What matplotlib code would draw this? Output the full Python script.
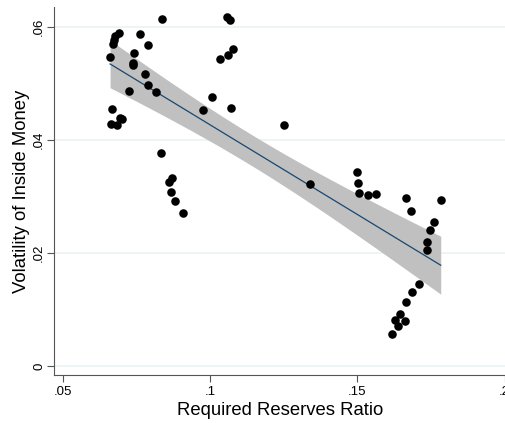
import numpy as np
import matplotlib
matplotlib.use('Agg')
import matplotlib.pyplot as plt

plt.rcParams['font.family'] = ['Liberation Sans', 'DejaVu Sans']

# required reserves ratio vs volatility of inside money
reserves = [0.0838, 0.1058, 0.1067, 0.0690, 0.0676, 0.0672, 0.0670, 0.0761,
            0.0789, 0.0660, 0.0740, 0.0737, 0.0739, 0.1078, 0.1061, 0.1035,
            0.0779, 0.0790, 0.0723, 0.0817, 0.1006, 0.0974, 0.1069, 0.0667,
            0.0664, 0.0682, 0.0693, 0.0702, 0.0834, 0.0870, 0.0860, 0.0868,
            0.0882, 0.0909, 0.1250, 0.1338, 0.1499, 0.1503, 0.1506, 0.1536,
            0.1564, 0.1664, 0.1682, 0.1783, 0.1761, 0.1745, 0.1737, 0.1737,
            0.1710, 0.1687, 0.1665, 0.1645, 0.1629, 0.1637, 0.1663, 0.1616]
volatility = [0.06146, 0.06174, 0.06116, 0.05898, 0.05838, 0.05762, 0.05691, 0.05868,
              0.05673, 0.05467, 0.05544, 0.05367, 0.05320, 0.05603, 0.05497, 0.05426,
              0.05173, 0.04966, 0.04860, 0.04851, 0.04759, 0.04529, 0.04568, 0.04547,
              0.04276, 0.04258, 0.04394, 0.04364, 0.03775, 0.03321, 0.03250, 0.03078,
              0.02926, 0.02714, 0.04264, 0.03220, 0.03427, 0.03241, 0.03059, 0.03029,
              0.03050, 0.02979, 0.02751, 0.02931, 0.02556, 0.02410, 0.02188, 0.02056,
              0.01451, 0.01307, 0.01130, 0.00923, 0.00808, 0.00711, 0.00805, 0.00570]

x_ticks = [0.05, 0.1, 0.15, 0.2]
x_labels = ['.05', '.1', '.15', '.2']
y_ticks = [0, 0.02, 0.04, 0.06]
y_labels = ['0', '.02', '.04', '.06']

x = np.array(reserves)
y = np.array(volatility)
n = len(x)

# linear fit with 95% CI of the mean prediction (like lfitci)
b, a = np.polyfit(x, y, 1)
resid = y - (a + b * x)
s = np.sqrt(np.sum(resid ** 2) / (n - 2))
xx = np.linspace(x.min(), x.max(), 100)
yy = a + b * xx
se = s * np.sqrt(1 / n + (xx - x.mean()) ** 2 / np.sum((x - x.mean()) ** 2))
t = 2.005

fig = plt.figure(figsize=(5.06, 4.23), dpi=100)
ax = fig.add_axes([0.107, 0.113, 0.892, 0.870])

ax.fill_between(xx, yy - t * se, yy + t * se, color='#c0c0c0', lw=0, zorder=2)
ax.plot(xx, yy, color='#1a476f', lw=0.9, zorder=3)
ax.scatter(x, y, s=38, color='black', lw=0, zorder=4)

ax.set_xlim(0.047, 0.2003)
ax.set_ylim(-0.0016, 0.0635)
ax.set_xticks(x_ticks)
ax.set_xticklabels(x_labels)
ax.set_yticks(y_ticks)
ax.set_yticklabels(y_labels, rotation=90, va='center')
ax.grid(axis='y', color='#eaf2f3', lw=1.2, zorder=0)
ax.set_axisbelow(True)

for side in ['top', 'right']:
    ax.spines[side].set_visible(False)
ax.spines['left'].set_color('#555555')
ax.spines['bottom'].set_color('#555555')
ax.tick_params(axis='both', length=5, width=0.8, color='#555555', labelsize=9.5)
ax.tick_params(axis='x', pad=3)
ax.tick_params(axis='y', pad=1.5)

ax.set_xlabel('Required Reserves Ratio', fontsize=13.3, labelpad=3)
ax.set_ylabel('Volatility of Inside Money', fontsize=13.3, labelpad=2)

fig.savefig('out.png', dpi=100)
